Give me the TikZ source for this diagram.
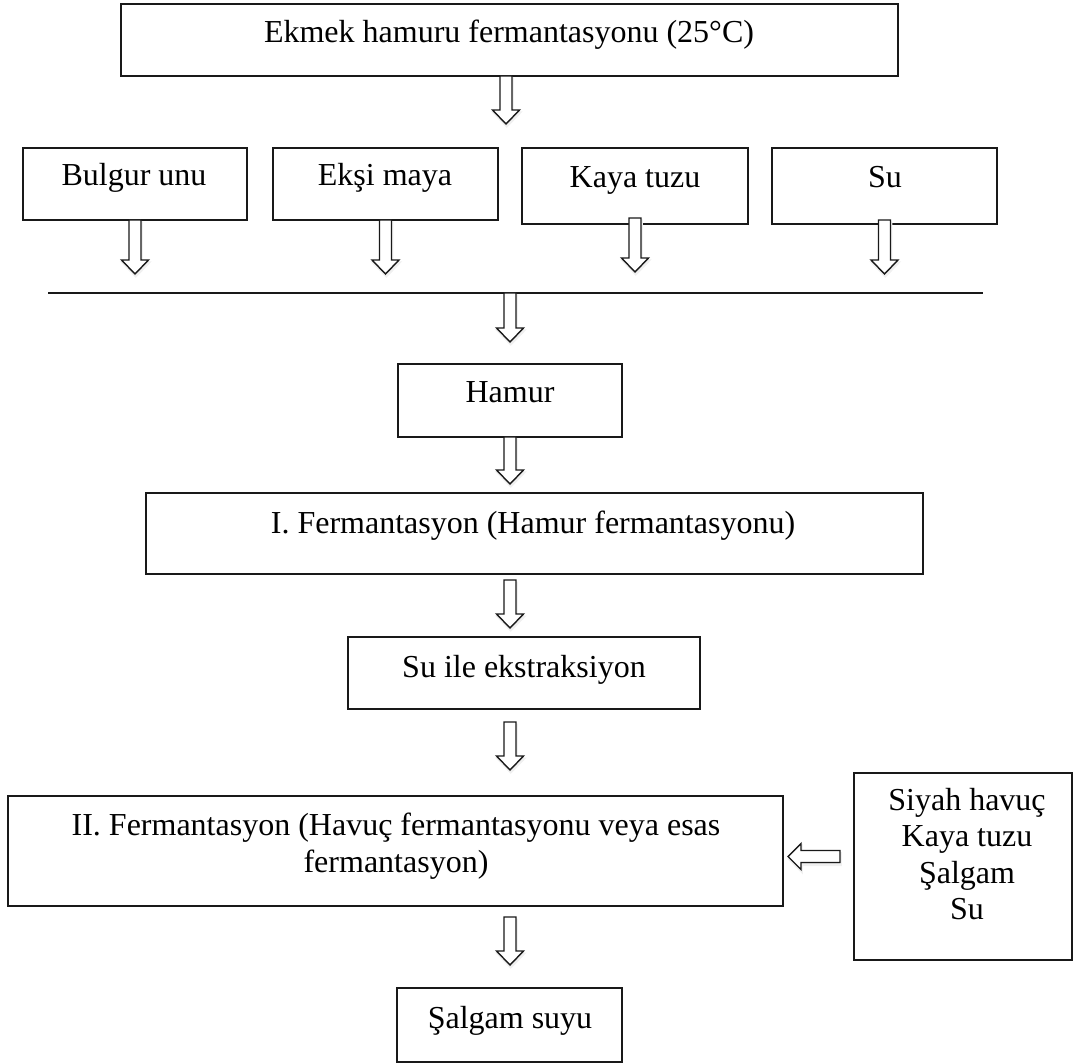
\documentclass[tikz,border=0pt]{standalone}
\usepackage{fontspec}
\setmainfont{Liberation Serif}
\usetikzlibrary{calc}
\begin{document}
\begin{tikzpicture}[x=1pt,y=-1pt,
  box/.style={draw=black!90, line width=1.5pt, inner sep=0pt, outer sep=0pt, anchor=north west},
  txt/.style={font=\fontsize{32}{36.5}\selectfont, inner sep=0pt, align=center, anchor=base},
  arrowlook/.style={draw=black!90, line width=1.4pt, fill=white, line join=miter,
    preaction={fill=black!10, draw=black!6, line width=2pt, transform canvas={shift={(0.8pt,-2.5pt)}}}},
  dnarrow/.style={arrowlook,
    to path={let \p1=(\tikztostart), \p2=(\tikztotarget) in
      (\x1-6pt,\y1) -- (\x1+6pt,\y1) -- (\x1+6pt,\y2+14pt) -- (\x1+13.5pt,\y2+14pt)
      -- (\x1,\y2) -- (\x1-13.5pt,\y2+14pt) -- (\x1-6pt,\y2+14pt) -- cycle}},
  lfarrow/.style={arrowlook,
    to path={let \p1=(\tikztostart), \p2=(\tikztotarget) in
      (\x1,\y1+6pt) -- (\x2+13pt,\y1+6pt) -- (\x2+13pt,\y1+13pt) -- (\x2,\y1)
      -- (\x2+13pt,\y1-13pt) -- (\x2+13pt,\y1-6pt) -- (\x1,\y1-6pt) -- cycle}}]
\useasboundingbox (0,0) rectangle (1074,1064);

% boxes
\node[box, minimum width=777pt, minimum height=72pt] (top) at (121,4) {};
\node[box, minimum width=224pt, minimum height=72pt] (bul) at (23,148) {};
\node[box, minimum width=225pt, minimum height=72pt] (eks) at (273,148) {};
\node[box, minimum width=226pt, minimum height=76pt] (kay) at (522,148) {};
\node[box, minimum width=225pt, minimum height=76pt] (su) at (772,148) {};
\node[box, minimum width=224pt, minimum height=73pt] (ham) at (398,364) {};
\node[box, minimum width=777pt, minimum height=81pt] (f1) at (146,493) {};
\node[box, minimum width=352pt, minimum height=72pt] (ext) at (348,637) {};
\node[box, minimum width=775pt, minimum height=110pt] (f2) at (8,796) {};
\node[box, minimum width=218pt, minimum height=187pt] (rb) at (854,773) {};
\node[box, minimum width=225pt, minimum height=74pt] (sal) at (397,988) {};

% texts
\node[txt] (topt) at (509,43) {Ekmek hamuru fermantasyonu (25°C)};
\node[txt] (bult) at (134,186) {Bulgur unu};
\node[txt] (ekst) at (385,186) {Ekşi maya};
\node[txt] (kayt) at (635,188) {Kaya tuzu};
\node[txt] (sut) at (885,188) {Su};
\node[txt] (hamt) at (510,403) {Hamur};
\node[txt] (f1t) at (533,533) {I. Fermantasyon (Hamur fermantasyonu)};
\node[txt] (extt) at (524,677) {Su ile ekstraksiyon};
\node[txt, anchor=north] (f2t) at (396,813) {II. Fermantasyon (Havuç fermantasyonu veya esas\\fermantasyon)};
\node[txt, anchor=north] (rbt) at (967,788) {Siyah havuç\\Kaya tuzu\\Şalgam\\Su};
\node[txt] (salt) at (510,1028) {Şalgam suyu};

% horizontal collecting line
\coordinate (L1) at (48,293);
\coordinate (L2) at (983,293);
\draw[line width=1.5pt, black!90] (L1) -- (L2);

% arrows
\coordinate (t1) at (506,124);
\draw[dnarrow] ($(top.south)+(-3.5,0)$) to (t1);
\draw[dnarrow] (bul.south) to ($(bul.south)+(0,54)$);
\draw[dnarrow] (eks.south) to ($(eks.south)+(0,54)$);
\draw[dnarrow] ($(kay.south)+(0,-6)$) to ($(kay.south)+(0,48)$);
\draw[dnarrow] ($(su.south)+(0,-4)$) to ($(su.south)+(0,50)$);
\coordinate (LH) at (510,293);
\draw[dnarrow] (LH) to ($(ham.north)+(0,-22)$);
\draw[dnarrow] (ham.south) to ($(f1.north -| ham)+(0,-9)$);
\draw[dnarrow] ($(f1.south -| ham)+(0,6)$) to ($(ext.north -| ham)+(0,-9)$);
\draw[dnarrow] ($(ext.south -| ham)+(0,13)$) to ($(f2.north -| ham)+(0,-26)$);
\draw[dnarrow] ($(f2.south -| ham)+(0,11)$) to ($(sal.north -| ham)+(0,-23)$);
\draw[lfarrow] ($(rb.west)+(-14,-10)$) to ($(f2.east)+(5,5)$);
\end{tikzpicture}
\end{document}
